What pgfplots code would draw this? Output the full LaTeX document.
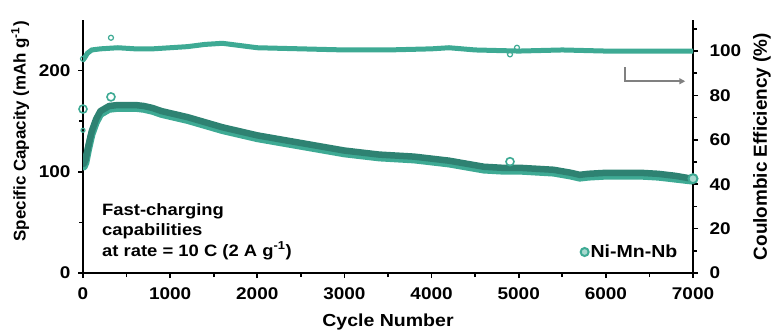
\documentclass[border=0pt]{standalone}
\usepackage{pgfplots}
\pgfplotsset{compat=1.18}
\usepackage{fontspec}
\setmainfont[FakeStretch=1.12]{Liberation Sans}
\newfontfamily\plainfont{Liberation Sans}
\usetikzlibrary{arrows.meta}
\definecolor{ceteal}{RGB}{62,170,148}
\definecolor{capdark}{RGB}{46,130,114}
\definecolor{caplight}{RGB}{62,170,148}
\begin{document}
\begin{tikzpicture}
\pgfplotsset{
  every axis/.append style={
    font=\fontsize{17}{19}\selectfont\bfseries,
    scale only axis, width=610bp, height=253bp,
    at={(83bp,58bp)}, anchor=south west,
    xmin=0, xmax=7000,
    axis line style={line width=1.8bp, -},
    tick style={black, line width=1.6bp},
    tick align=outside,
    major tick length=5bp, minor tick length=4bp,
    /pgf/number format/assume math mode=true,
    /pgf/number format/set thousands separator={},
    scaled x ticks=false,
  }
}
\begin{axis}[
  ymin=0, ymax=250,
  axis x line*=bottom, axis y line*=left,
  xtick={0,1000,...,7000}, minor xtick={500,1500,...,6500},
  ytick={0,100,200}, minor ytick={50,150},
  xlabel={Cycle Number},
  ylabel={\plainfont\bfseries\fontsize{17}{19}\selectfont Specific Capacity (mAh g\textsuperscript{-1})},
  xlabel style={at={(axis description cs:0.5,-0.2134)}, anchor=base, font=\fontsize{17.5}{19}\selectfont\bfseries},
  ylabel style={at={(axis description cs:-0.103,0.56)}, anchor=center},
  xticklabel style={anchor=north, yshift=-6bp},
  yticklabel style={xshift=-4bp},
]
\addplot[caplight, line width=7.5bp, line join=round, line cap=round] coordinates {
(0,112)(10,105)(30,109)(60,122)(100,137)(150,149)(200,157)(300,162)(400,163)(500,163)(600,163)(700,162)(800,160)(900,157)(1000,155)(1200,151)(1400,146)(1600,141)(1800,137)(2000,133)(2200,130)(2400,127)(2600,124)(2800,121)(3000,118)(3200,116)(3400,114)(3600,113)(3800,112)(4000,110)(4200,108)(4400,105)(4600,102)(4800,101)(5000,101)(5200,100)(5400,99)(5600,96)(5700,94)(5800,95)(6000,96)(6200,96)(6400,96)(6600,95)(6800,93)(7000,91)};
\addplot[capdark, line width=6.5bp, line join=round, line cap=round] coordinates {
(0,115)(10,108)(30,112)(60,125)(100,140)(150,152)(200,160)(300,165)(400,166)(500,166)(600,166)(700,165)(800,163)(900,160)(1000,158)(1200,154)(1400,149)(1600,144)(1800,140)(2000,136)(2200,133)(2400,130)(2600,127)(2800,124)(3000,121)(3200,119)(3400,117)(3600,116)(3800,115)(4000,113)(4200,111)(4400,108)(4600,105)(4800,104)(5000,104)(5200,103)(5400,102)(5600,99)(5700,97)(5800,98)(6000,99)(6200,99)(6400,99)(6600,98)(6800,96)(7000,93)};
\addplot[only marks, mark=o, mark size=4bp, ceteal, line width=1.6bp] coordinates {(0,162)(321,174)(4900,110)};
\addplot[only marks, mark=o, mark size=2bp, ceteal, line width=1.2bp] coordinates {(0,141)};
\node[align=left, anchor=north west, font=\fontsize{16.5}{20.5}\selectfont\bfseries, inner sep=0pt] at (axis cs:218,69) {Fast-charging\\capabilities\\at rate = 10 C (2 A g\textsuperscript{-1})};
\end{axis}
\begin{axis}[
  ymin=0, ymax=114,
  hide x axis, axis y line*=right,
  ytick={0,20,...,100}, minor ytick={10,30,...,110},
  ylabel={\plainfont\bfseries\fontsize{19}{21}\selectfont Coulombic Efficiency (\%)},
  ylabel style={at={(axis description cs:1.113,0.50)}, anchor=center},
  yticklabel style={xshift=8bp},
  legend style={draw=none, fill=none, at={(axis description cs:0.978,0.083)}, anchor=east, font=\fontsize{17.5}{19}\selectfont\bfseries, inner sep=0pt},
  legend cell align=left,
]
\addplot[ceteal, line width=5bp, line join=round, line cap=round, forget plot] coordinates {
(0,96)(20,97)(50,99)(100,100.5)(200,101)(400,101.5)(600,101)(800,101)(1000,101.5)(1200,102)(1400,103)(1600,103.5)(1800,102.5)(2000,101.5)(2500,101)(3000,100.5)(3500,100.5)(4000,101)(4200,101.5)(4500,100.5)(5000,100)(5500,100.5)(6000,100)(6500,100)(7000,100)};
\addplot[only marks, mark=o, mark size=2.5bp, ceteal, line width=1.2bp, forget plot] coordinates {(321,106)(0,96.5)(4900,98.5)(4980,101.5)};
\addplot[only marks, mark=*, mark size=4.5bp, draw=ceteal, fill=ceteal!45!white, line width=2bp, forget plot] coordinates {(7000,42.5)};
\addlegendimage{only marks, mark=*, mark size=4bp, draw=ceteal, fill=ceteal!45!white, line width=2bp}
\addlegendentry{Ni-Mn-Nb}
\draw[gray, line width=1.5bp, -{Triangle[length=6bp,width=6bp]}] (axis cs:6222,92.8) -- (axis cs:6222,86.4) -- (axis cs:6911,86.4);
\end{axis}
\pgfresetboundingbox
\useasboundingbox (0,0) rectangle (772bp,331bp);
\end{tikzpicture}
\end{document}
